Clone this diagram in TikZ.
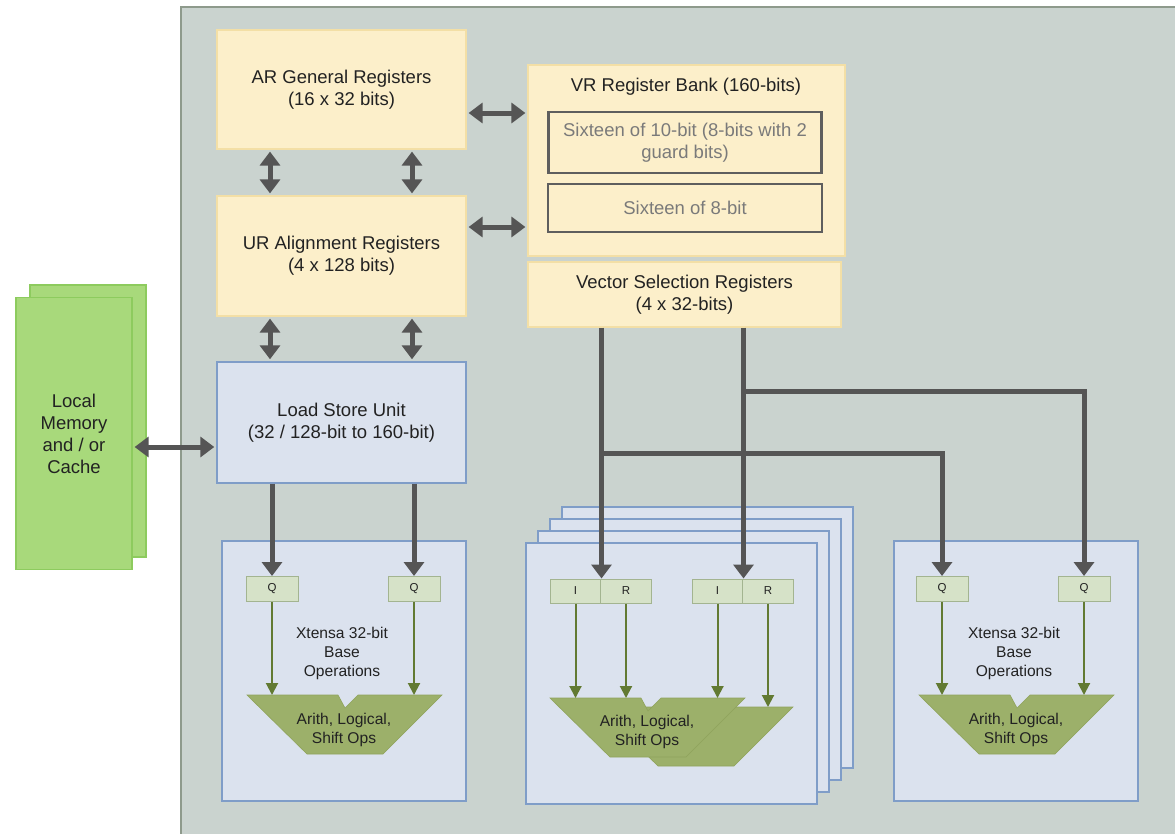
\documentclass[tikz,border=0pt]{standalone}
\usepackage{fontspec}
\setmainfont{Liberation Sans}
\usetikzlibrary{arrows.meta}
\definecolor{panelF}{HTML}{CAD3CF}
\definecolor{panelB}{HTML}{8E9A8C}
\definecolor{yelF}{HTML}{FCEFCA}
\definecolor{yelB}{HTML}{F3DFA6}
\definecolor{bluF}{HTML}{DBE2EE}
\definecolor{bluB}{HTML}{7F9DC8}
\definecolor{qF}{HTML}{D6E2C8}
\definecolor{qB}{HTML}{A3B490}
\definecolor{aluF}{HTML}{9CB06A}
\definecolor{aluB}{HTML}{8FA35C}
\definecolor{arrG}{HTML}{555555}
\definecolor{grnA}{HTML}{627A32}
\definecolor{memF}{HTML}{A8D97B}
\definecolor{memB}{HTML}{8DCB5E}
\definecolor{innerB}{HTML}{5E5E5E}
\definecolor{innerT}{HTML}{7A7A7A}
\definecolor{txt}{HTML}{222222}
\newcommand\txtA{\fontsize{18.5}{22}\selectfont}
\newcommand\txtB{\fontsize{15.6}{19}\selectfont}
\newcommand\txtC{\fontsize{11.5}{13}\selectfont}
\newcommand\alushape[1]{%
  \draw[alu,shift={#1}] (0,0) -- (91,0) -- (98,13) -- (111,0) -- (195,0) -- (136,59) -- (60,59) -- cycle;}
\begin{document}
\begin{tikzpicture}[x=1pt,y=-1pt,
  yel/.style={draw=yelB,fill=yelF,line width=1.2pt,inner sep=0pt,align=center,font=\txtA,text=txt},
  blu/.style={draw=bluB,fill=bluF,line width=1.4pt,inner sep=0pt,align=center,font=\txtA,text=txt},
  innerbox/.style={draw=innerB,line width=2.4pt,inner sep=0pt,align=center,font=\txtA,text=innerT},
  membox/.style={draw=memB,fill=memF,line width=1.2pt,inner sep=0pt,minimum width=116pt,minimum height=272pt,align=center,font=\txtA,text=txt},
  qbox/.style={draw=qB,fill=qF,line width=1pt,inner sep=0pt,minimum width=52pt,minimum height=25pt,font=\txtC,text=txt},
  irbox/.style={draw=qB,fill=qF,line width=1pt,inner sep=0pt,minimum width=51pt,minimum height=24pt,font=\txtC,text=txt},
  stackbox/.style={draw=bluB,fill=bluF,line width=1.4pt,inner sep=0pt,minimum width=291pt,minimum height=261pt},
  unitbox/.style={draw=bluB,fill=bluF,line width=1.4pt,inner sep=0pt,minimum width=244pt,minimum height=260pt},
  alu/.style={fill=aluF,draw=aluB,line width=0.6pt},
  plain/.style={align=center,inner sep=0pt,text=txt},
  bigline/.style={draw=arrG,line width=5pt},
  bigarr/.style={bigline,-{Triangle[width=20pt,length=14pt]}},
  bigbi/.style={bigline,{Triangle[width=20pt,length=14pt]}-{Triangle[width=20pt,length=14pt]},shorten <=2pt,shorten >=2pt},
  garr/.style={draw=grnA,line width=2pt,-{Triangle[width=12pt,length=12pt]}}
]
\clip (0,0) rectangle (1175,833);
\fill[white] (0,0) rectangle (1175,833);
% panel
\draw[fill=panelF,draw=panelB,line width=2pt] (181,7) rectangle (1200,860);

% local memory
\node[membox] (mem2) at (88,421) {};
\node[membox] (mem) at (74,433.5) {Local\\Memory\\and / or\\Cache};

% registers
\node[yel,minimum width=249pt,minimum height=119pt] (ar) at (341.5,89.5) {AR General Registers\\(16 x 32 bits)};
\node[yel,minimum width=249pt,minimum height=120pt] (ur) at (341.5,256) {UR Alignment Registers\\(4 x 128 bits)};
\node[yel,minimum width=317pt,minimum height=191pt] (vr) at (686.5,160.5) {};
\node[plain,font=\txtA] (vrt) at (686,87) {VR Register Bank (160-bits)};
\node[innerbox,minimum width=273pt,minimum height=61pt] (vr1) at (685,142.5) {Sixteen of 10-bit (8-bits with 2\\guard bits)};
\node[innerbox,minimum width=274pt,minimum height=48pt] (vr2) at (685,208) {Sixteen of 8-bit};
\node[yel,minimum width=313pt,minimum height=65pt] (vsr) at (684.5,294.5) {Vector Selection Registers\\(4 x 32-bits)};
\node[blu,minimum width=249pt,minimum height=121pt] (lsu) at (341.5,422.5) {Load Store Unit\\(32 / 128-bit to 160-bit)};

% left unit
\node[unitbox] (blkL) at (344,671) {};
\node[qbox] (qL1) at (272,589) {Q};
\node[qbox] (qL2) at (414,589) {Q};
\node[plain,font=\txtB] (xtL) at (342,653) {Xtensa 32-bit\\Base\\Operations};
\alushape{(247,695)}
\node[plain,font=\txtB] (aluL) at (344,730) {Arith, Logical,\\Shift Ops};
\coordinate (tL1) at (272,695);
\coordinate (tL2) at (414,695);

% right unit
\node[unitbox] (blkR) at (1016,671) {};
\node[qbox] (qR1) at (942,589) {Q};
\node[qbox] (qR2) at (1084,589) {Q};
\node[plain,font=\txtB] (xtR) at (1014,653) {Xtensa 32-bit\\Base\\Operations};
\alushape{(919,695)}
\node[plain,font=\txtB] (aluR) at (1016,730) {Arith, Logical,\\Shift Ops};
\coordinate (tR1) at (942,695);
\coordinate (tR2) at (1084,695);

% middle stacked units
\node[stackbox] (s4) at (707.5,637.5) {};
\node[stackbox] (s3) at (695.5,649.5) {};
\node[stackbox] (s2) at (683.5,661.5) {};
\node[stackbox] (s1) at (671.5,673.5) {};
\node[irbox] (i1) at (575.5,591) {I};
\node[irbox] (r1) at (626,591) {R};
\node[irbox] (i2) at (717.5,591) {I};
\node[irbox] (r2) at (768,591) {R};
\alushape{(598,707)}
\alushape{(550,698)}
\node[plain,font=\txtB] (aluM) at (647,732) {Arith, Logical,\\Shift Ops};
\coordinate (tM1) at (575.5,698);
\coordinate (tM2) at (626,698);
\coordinate (tM3) at (717.5,698);
\coordinate (tM4) at (768,707);

% green arrows
\draw[garr] (qL1.south) -- (tL1);
\draw[garr] (qL2.south) -- (tL2);
\draw[garr] (qR1.south) -- (tR1);
\draw[garr] (qR2.south) -- (tR2);
\draw[garr] (i1.south) -- (tM1);
\draw[garr] (r1.south) -- (tM2);
\draw[garr] (i2.south) -- (tM3);
\draw[garr] (r2.south) -- (tM4);

% big gray connectors
\coordinate (cx1) at (270,0);
\coordinate (cx2) at (412,0);
\draw[bigbi] (ar.east |- 0,113) -- (vr.west |- 0,113);
\draw[bigbi] (ur.east |- 0,227) -- (vr.west |- 0,227);
\draw[bigbi] (ar.south -| cx1) -- (ur.north -| cx1);
\draw[bigbi] (ar.south -| cx2) -- (ur.north -| cx2);
\draw[bigbi] (ur.south -| cx1) -- (lsu.north -| cx1);
\draw[bigbi] (ur.south -| cx2) -- (lsu.north -| cx2);
\draw[bigbi] (mem.east |- 0,447) -- (lsu.west |- 0,447);
\draw[bigarr] (lsu.south -| qL1) -- (qL1.north);
\draw[bigarr] (lsu.south -| qL2) -- (qL2.north);
\coordinate (j1) at (601,453);
\coordinate (j2) at (743,391);
\draw[bigarr] (vsr.south -| i1.east) -- (i1.north east);
\draw[bigarr] (vsr.south -| i2.east) -- (i2.north east);
\draw[bigarr] (j1) -| (qR1.north);
\draw[bigarr] (j2) -| (qR2.north);
\end{tikzpicture}
\end{document}
